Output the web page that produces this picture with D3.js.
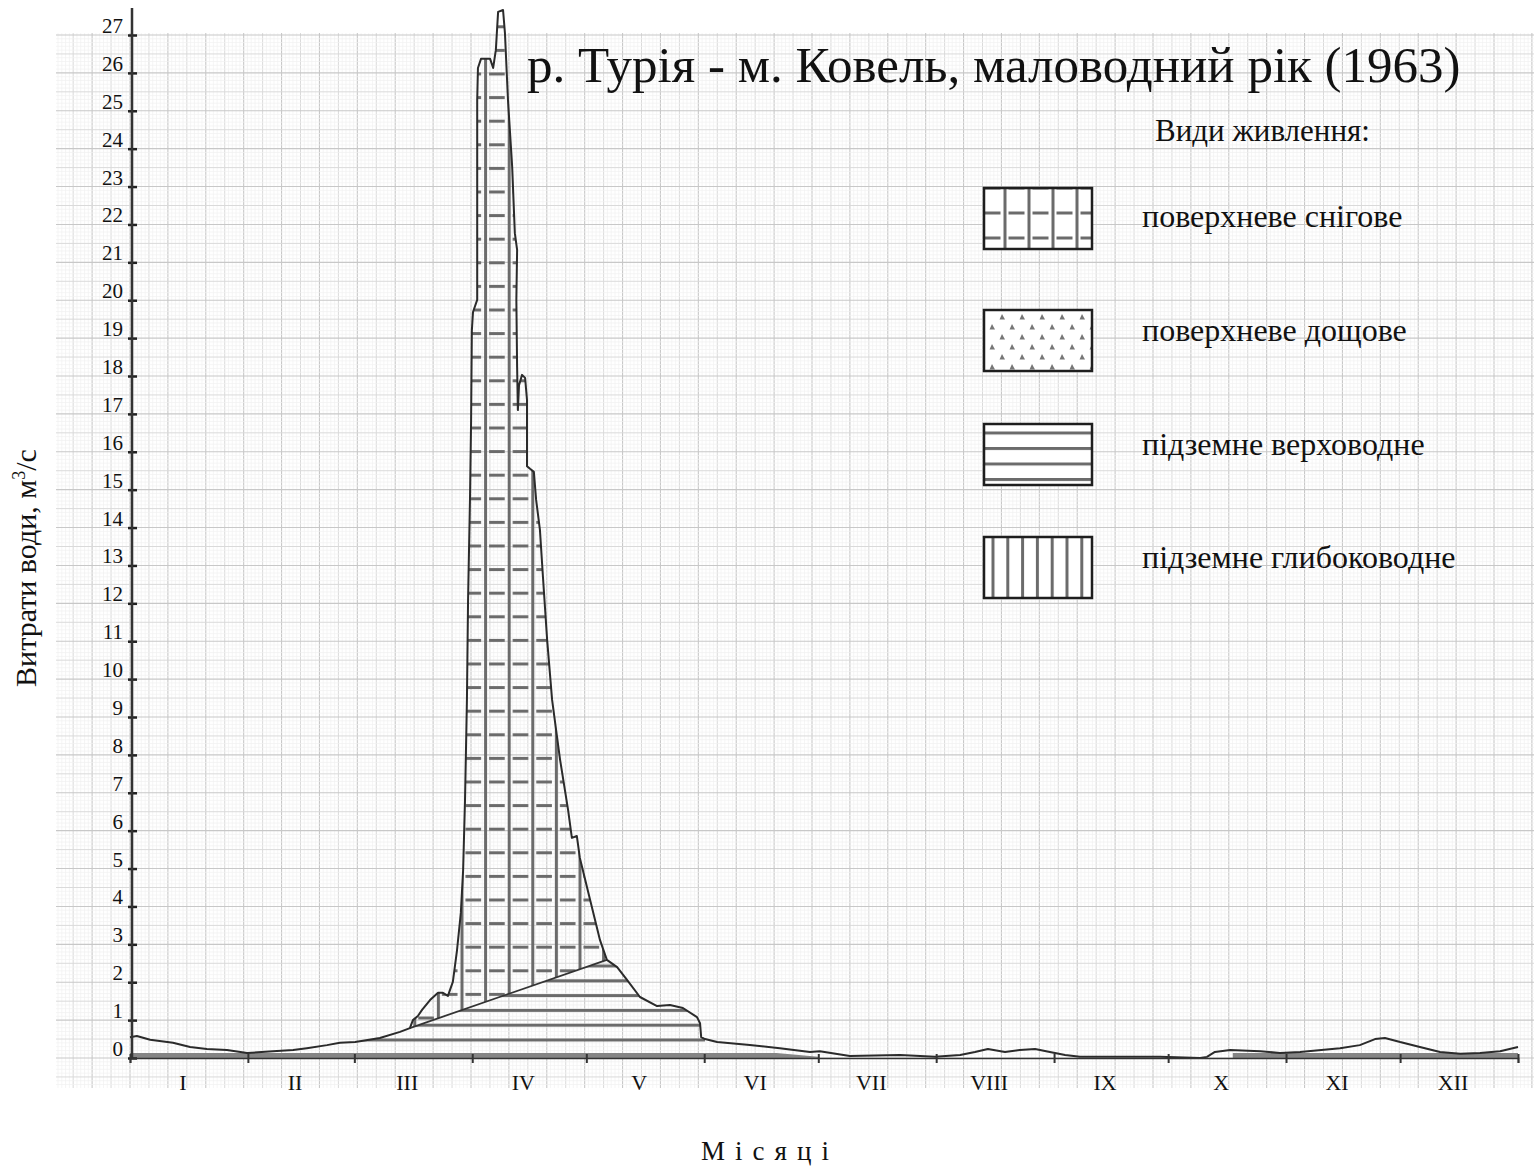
<!DOCTYPE html>
<html>
<head>
<meta charset="utf-8">
<script src="https://cdn.jsdelivr.net/npm/d3@7"></script>
<style>
  body { margin: 0; background: #fff; }
  svg { display: block; }
  text { font-family: "Liberation Serif", "Times New Roman", serif; fill: #111; }
</style>
</head>
<body>
<svg id="chart" width="1534" height="1168"></svg>
<script>
// ---- data -------------------------------------------------------------
const monthLabels = ["I", "II", "III", "IV", "V", "VI", "VII", "VIII", "IX", "X", "XI", "XII"];
const monthDays = [31, 28, 31, 30, 31, 30, 31, 31, 30, 31, 30, 31];
const yTickValues = d3.range(0, 28);

// total discharge, [day of year, m³/s]
const discharge = [
  [0, 0.55], [1.8, 0.58], [5.3, 0.48], [11.3, 0.40], [15.8, 0.29], [20.2, 0.24], [25.5, 0.21],
  [30.8, 0.13], [37.6, 0.18], [42.9, 0.21], [46.5, 0.26], [51.8, 0.34], [55.2, 0.40], [59.2, 0.42],
  [65.7, 0.53], [71.0, 0.69], [73.6, 0.79], [74.4, 1.00], [75.7, 1.11], [76.8, 1.27], [78.9, 1.53],
  [81.0, 1.72], [82.3, 1.72], [83.6, 1.64], [84.9, 2.01], [86.0, 2.85], [87.0, 3.83], [87.6, 4.96],
  [88.1, 6.81], [88.6, 9.45], [88.9, 12.09], [89.4, 14.73], [89.7, 16.84], [89.9, 19.21], [90.2, 19.69],
  [91.3, 20.01], [91.3, 25.28], [91.5, 26.13], [92.3, 26.37], [94.7, 26.37], [95.5, 26.13], [96.2, 26.60],
  [96.8, 27.61], [98.1, 27.66], [98.6, 27.05], [99.4, 25.28], [100.5, 23.52], [101.2, 21.77], [101.8, 21.33],
  [101.6, 20.01], [101.8, 18.24], [102.0, 17.10], [102.3, 17.76], [103.1, 18.03], [103.9, 17.95], [104.4, 17.37],
  [104.4, 15.62], [105.2, 15.55], [106.2, 15.47], [106.8, 14.73], [107.8, 13.94], [108.6, 12.69], [109.7, 11.03],
  [111.0, 9.45], [113.1, 7.87], [115.2, 6.55], [116.2, 5.81], [117.5, 5.86], [118.3, 5.28], [121.0, 4.17],
  [123.6, 3.11], [125.4, 2.59], [128.1, 2.40], [130.7, 2.06], [134.1, 1.61], [138.6, 1.37], [142.0, 1.40],
  [145.4, 1.32], [149.1, 1.08], [149.9, 0.92], [150.2, 0.55], [151.2, 0.50], [154.4, 0.42], [163.0, 0.34],
  [170.9, 0.26], [178.8, 0.16], [181.4, 0.18], [189.3, 0.05], [202.5, 0.08], [211.7, 0.03], [218.3, 0.08],
  [222.2, 0.16], [225.6, 0.24], [230.1, 0.16], [234.0, 0.21], [238.0, 0.24], [241.9, 0.16], [245.9, 0.08],
  [249.8, 0.03], [260.3, 0.03], [270.9, 0.03], [281.4, 0.00], [283.2, 0.03], [285.3, 0.16], [289.3, 0.21],
  [297.2, 0.18], [302.4, 0.13], [307.7, 0.16], [318.2, 0.26], [323.4, 0.34], [327.4, 0.50], [330.0, 0.53],
  [334.0, 0.42], [339.2, 0.29], [344.5, 0.16], [349.8, 0.11], [355.0, 0.13], [360.3, 0.18], [365.0, 0.29]
];

// separation line between snowmelt and perched groundwater flow
const snowBase = [[73.6, 0.79], [125.4, 2.59]];
// perched groundwater (верховодне) period, days
const perchedSpan = [55.2, 151.2];
// deep groundwater (глибоководне) flow
const deepFlowSpring = [[0, 0.13], [170, 0.13], [181, 0.03]];
const deepFlowAutumn = [[290, 0.13], [365, 0.13]];

const legendLabels = ["поверхневе снігове", "поверхневе дощове", "підземне верховодне", "підземне глибоководне"];

// ---- layout -----------------------------------------------------------
const svg = d3.select("#chart");
const x = d3.scaleLinear().domain([0, 365]).range([130, 1518]);
const y = d3.scaleLinear().domain([0, 27]).range([1058, 35]);

const paper = { x0: 56, x1: 1534, y0: 33, y1: 1088 };
const HATCH = "#6b6b6b";

// ---- patterns ---------------------------------------------------------
const defs = svg.append("defs");
function makePattern(id, w, h, ox, oy, draw) {
  const p = defs.append("pattern").attr("id", id)
    .attr("patternUnits", "userSpaceOnUse")
    .attr("x", ox).attr("y", oy).attr("width", w).attr("height", h);
  draw(p, w, h);
}
function gridTile(p, w, h) {
  p.append("rect").attr("x", 0).attr("y", 0).attr("width", 3).attr("height", h).attr("fill", HATCH);
  p.append("rect").attr("x", 5).attr("y", 0).attr("width", w - 8).attr("height", 3).attr("fill", HATCH);
}
function hLineTile(p, w, h) {
  p.append("rect").attr("x", 0).attr("y", 0).attr("width", w).attr("height", 3).attr("fill", HATCH);
}
function vLineTile(p, w, h) {
  p.append("rect").attr("x", 0).attr("y", 0).attr("width", 3).attr("height", h).attr("fill", HATCH);
}
function dotTile(p, w, h) {
  [[0, 0], [w / 2, h / 2], [w, 0], [0, h], [w, h]].forEach(([cx, cy]) => {
    p.append("path").attr("d", `M${cx - 2.5},${cy + 2.5}L${cx},${cy - 3}L${cx + 3},${cy + 2.5}Z`).attr("fill", "#777");
  });
}
makePattern("snowGrid", 23.6, 23.6, 460.5, 1016.5, gridTile);
makePattern("perchedLines", 20, 14.8, 0, 1038.5, hLineTile);
makePattern("lgSnow", 24, 25, 1003.5, 211.5, gridTile);
makePattern("lgRain", 20, 20, 982, 317, dotTile);
makePattern("lgPerched", 20, 15.5, 0, 431.5, hLineTile);
makePattern("lgDeep", 14.8, 20, 991.5, 0, vLineTile);

// ---- millimetre paper -------------------------------------------------
const mm = (y(0) - y(1)) / 10;
const gPaper = svg.append("g");
function paperStyle(k) {
  if (k % 10 === 0) return ["#c8c8c8", 1.1];
  if (k % 5 === 0) return ["#dadada", 1];
  return ["#f0f0f0", 0.7];
}
d3.range(Math.ceil((paper.x0 - x(0)) / mm), Math.floor((paper.x1 - x(0)) / mm) + 1).forEach(k => {
  const px = x(0) + k * mm, [c, w] = paperStyle(Math.abs(k));
  gPaper.append("line").attr("x1", px).attr("x2", px).attr("y1", paper.y0).attr("y2", paper.y1)
    .attr("stroke", c).attr("stroke-width", w);
});
d3.range(Math.ceil((y(0) - paper.y1) / mm), Math.floor((y(0) - paper.y0) / mm) + 1).forEach(k => {
  const py = y(0) - k * mm, [c, w] = paperStyle(Math.abs(k));
  gPaper.append("line").attr("y1", py).attr("y2", py).attr("x1", paper.x0).attr("x2", paper.x1)
    .attr("stroke", c).attr("stroke-width", w);
});

// ---- hydrograph -------------------------------------------------------
const line = d3.line().x(d => x(d[0])).y(d => y(d[1]));
const deepLevel = deepFlowSpring[0][1];

// perched groundwater: under the hydrograph and the separation line
const iSnow0 = discharge.findIndex(d => d[0] === snowBase[0][0]);
const iSnow1 = discharge.findIndex(d => d[0] === snowBase[1][0]);
const perchedTop = [
  ...discharge.filter((d, i) => d[0] >= perchedSpan[0] && i <= iSnow0),
  snowBase[1],
  ...discharge.filter((d, i) => i > iSnow1 && d[0] <= perchedSpan[1])
];
const perchedPoly = [...perchedTop, [perchedSpan[1], deepLevel], [perchedSpan[0], deepLevel]];
svg.append("path").attr("d", line(perchedPoly) + "Z").attr("fill", "url(#perchedLines)");

// snowmelt: between the separation line and the hydrograph
const snowPoly = [...discharge.slice(iSnow0, iSnow1 + 1), snowBase[0]];
svg.append("path").attr("d", line(snowPoly) + "Z").attr("fill", "url(#snowGrid)");

// deep groundwater band along the axis
const deepArea = d3.area().x(d => x(d[0])).y0(y(0)).y1(d => y(d[1]));
[deepFlowSpring, deepFlowAutumn].forEach(s => {
  svg.append("path").attr("d", deepArea(s)).attr("fill", "#858585");
});

// separation line and hydrograph outline
svg.append("path").attr("d", line(snowBase)).attr("fill", "none")
  .attr("stroke", "#333").attr("stroke-width", 1.8);
svg.append("path").attr("d", line(discharge)).attr("fill", "none")
  .attr("stroke", "#2b2b2b").attr("stroke-width", 2).attr("stroke-linejoin", "round");

// ---- axes -------------------------------------------------------------
const yAxis = svg.append("g").attr("transform", `translate(${x(0) + 2},0)`)
  .call(d3.axisLeft(y).tickValues(yTickValues).tickSize(4).tickPadding(4));
yAxis.select(".domain").remove();
yAxis.selectAll(".tick line").attr("x1", -4).attr("x2", 5).attr("stroke", "#222").attr("stroke-width", 2.5);
yAxis.selectAll(".tick text").attr("x", -9).attr("dy", "-0.12em")
  .style("font-family", "'Liberation Serif', serif").style("font-size", "21px").attr("fill", "#111");
svg.append("line").attr("x1", x(0) + 2).attr("x2", x(0) + 2).attr("y1", 8).attr("y2", y(0))
  .attr("stroke", "#333").attr("stroke-width", 2.5);

const monthStarts = d3.cumsum([0, ...monthDays]);
const xAxis = svg.append("g").attr("transform", `translate(0,${y(0)})`)
  .call(d3.axisBottom(x).tickValues(Array.from(monthStarts)).tickFormat("").tickSize(5));
xAxis.select(".domain").attr("stroke", "#333").attr("stroke-width", 1.6);
xAxis.selectAll(".tick line").attr("y1", -4).attr("y2", 5).attr("stroke", "#333").attr("stroke-width", 2);

svg.append("g").selectAll("text").data(monthLabels).join("text")
  .attr("x", (d, i) => x((monthStarts[i] + monthStarts[i + 1]) / 2) - 6)
  .attr("y", 1090)
  .attr("text-anchor", "middle")
  .style("font-size", "22px")
  .text(d => d);

// axis titles
svg.append("text").attr("x", 770).attr("y", 1160).attr("text-anchor", "middle")
  .style("font-size", "27px").style("letter-spacing", "10px").text("Місяці");
svg.append("text").attr("transform", "translate(36,568) rotate(-90)").attr("text-anchor", "middle")
  .style("font-size", "30px")
  .call(t => {
    t.append("tspan").text("Витрати води, м");
    t.append("tspan").attr("dy", -11).style("font-size", "18px").text("3");
    t.append("tspan").attr("dy", 11).text("/с");
  });

// ---- title and legend -------------------------------------------------
svg.append("text").attr("x", 527).attr("y", 82).style("font-size", "51px")
  .text("р. Турія - м. Ковель, маловодний рік (1963)");
svg.append("text").attr("x", 1155).attr("y", 141).style("font-size", "31px").text("Види живлення:");

const legendTops = [188, 310, 424, 537];
const labelBaselines = [227, 341, 455, 568];
const legendFills = ["url(#lgSnow)", "url(#lgRain)", "url(#lgPerched)", "url(#lgDeep)"];
const gLegend = svg.append("g");
legendLabels.forEach((label, i) => {
  gLegend.append("rect").attr("x", 984).attr("y", legendTops[i]).attr("width", 108).attr("height", 61)
    .attr("fill", "#fff");
  gLegend.append("rect").attr("x", 984).attr("y", legendTops[i]).attr("width", 108).attr("height", 61)
    .attr("fill", legendFills[i]).attr("stroke", "#1e1e1e").attr("stroke-width", 2.5);
  gLegend.append("text").attr("x", 1142).attr("y", labelBaselines[i]).style("font-size", "32px").text(label);
});
</script>
</body>
</html>
